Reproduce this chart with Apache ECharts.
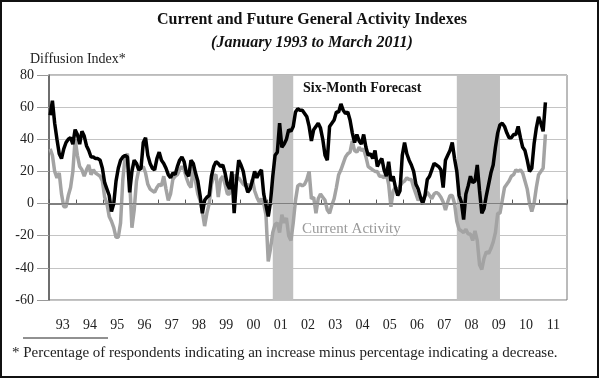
<!DOCTYPE html>
<html>
<head>
<meta charset="utf-8">
<script src="https://cdn.jsdelivr.net/npm/echarts@6/dist/echarts.min.js"></script>
<style>
html,body{margin:0;padding:0;background:#fff;}
#c{width:600px;height:380px;}
</style>
</head>
<body>
<div id="c"></div>
<script>
// Year tick labels (one per calendar year, 1993..2011)
var yearLabels = ['93','94','95','96','97','98','99','00','01','02','03','04','05','06','07','08','09','10','11'];

// Six-Month Forecast (future general activity), monthly Jan 1993 - Mar 2011
var forecast = [
 55,64,50,40,31,28,34,38,40,41,37,46,
 43,37,45,42,36,33,29,29,28,28,27,22,
 13,9,5,-5,0,14,22,27,29,30,29,7,
 20,27,25,21,22,38,41,30,25,22,21,28,
 32,27,25,22,18,16,19,18,23,27,29,26,
 19,17,27,25,19,14,5,-6,2,4,5,17,
 23,26,25,23,24,19,12,9,20,-6,14,27,
 24,20,12,7,9,14,20,16,19,21,6,-1,
 -8,1,17,30,32,50,35,37,40,46,45,48,
 57,59,58,58,56,54,48,39,46,48,50,47,
 40,30,27,48,50,52,57,57,62,58,56,57,
 52,44,38,43,39,37,43,35,30,31,28,33,
 23,26,28,21,17,26,14,17,10,5,8,30,
 38,31,27,24,20,12,9,4,0,5,15,17,
 21,25,24,23,21,10,27,30,33,38,28,20,
 5,1,-10,6,11,17,13,14,24,8,-6,-3,
 5,12,19,24,35,44,49,50,48,44,41,41,
 43,43,48,41,35,33,27,20,22,37,47,54,
 50,45,63
];

// Current Activity, monthly Jan 1993 - Mar 2011
var current = [
 34,30,20,16,19,6,-2,-2,5,10,20,40,
 30,23,21,17,21,24,18,21,19,18,17,14,
 4,0,-8,-11,-15,-21,-21,-12,15,29,31,15,
 -15,-4,14,21,22,23,19,12,9,8,7,10,
 12,11,17,9,2,6,15,17,18,21,23,21,
 16,12,10,23,14,6,2,-5,-14,-6,0,12,
 17,18,4,15,17,12,6,6,13,18,15,16,
 14,12,11,12,9,15,8,4,1,3,0,-7,
 -36,-28,-18,-13,-12,-18,-7,-12,-9,-20,-23,-12,
 2,11,12,11,12,15,20,3,4,-6,3,6,
 4,2,-4,-6,-1,3,10,18,21,25,29,31,
 32,39,33,32,35,33,34,29,23,22,21,20,
 20,17,17,16,19,12,-2,8,10,8,11,13,
 14,16,15,15,10,6,2,4,1,5,7,5,
 3,6,7,6,4,1,-4,1,5,5,0,-11,
 -16,-17,-18,-16,-19,-19,-23,-17,-23,-38,-41,-34,
 -30,-31,-28,-24,-18,-6,-6,2,10,12,14,17,
 18,21,20,21,19,14,9,0,-5,0,10,18,
 20,22,43
];

// Recession periods (first and last month shaded)
var recessions = [['2001-03','2001-12'], ['2007-12','2009-07']];

// Monthly category axis Jan 1993 .. Dec 2011
var months = [];
for (var y = 1993; y <= 2011; y++) {
  for (var m = 1; m <= 12; m++) months.push(y + '-' + (m < 10 ? '0' + m : m));
}

var serif = '"Liberation Serif", "DejaVu Serif", serif';
var chart = echarts.init(document.getElementById('c'), null, {renderer: 'canvas'});
chart.setOption({
  animation: false,
  backgroundColor: '#fff',
  grid: {left: 49, top: 75, width: 518, height: 225, show: true, borderColor: '#777', borderWidth: 1},
  xAxis: [
    {type: 'category', data: yearLabels, boundaryGap: true,
     axisLine: {show: true, lineStyle: {color: '#555', width: 1.5}},
     axisTick: {show: true, inside: true, length: 4, interval: 0, lineStyle: {color: '#555'}},
     axisLabel: {fontFamily: serif, fontSize: 14, color: '#222', margin: 18, interval: 0},
     splitLine: {show: false}},
    {type: 'category', data: months, boundaryGap: true, show: false}
  ],
  yAxis: {type: 'value', min: -60, max: 80, interval: 20,
    axisLine: {show: true, lineStyle: {color: '#555', width: 1.5}},
    axisTick: {show: true, length: 12, lineStyle: {color: '#999'}},
    axisLabel: {fontFamily: serif, fontSize: 14, color: '#222', margin: 15},
    splitLine: {show: true, lineStyle: {color: '#c4c4c4', width: 1.2}}},
  series: [
    {type: 'line', xAxisIndex: 1, data: current, showSymbol: false, symbol: 'none',
     lineStyle: {color: '#a3a3a3', width: 3.5}, z: 3,
     markArea: {silent: true, itemStyle: {color: '#c0c0c0'},
       data: recessions.map(function (r) { return [{xAxis: r[0]}, {xAxis: r[1]}]; })},
     markLine: {silent: true, symbol: 'none', label: {show: false},
       lineStyle: {color: '#808080', width: 1.2, type: 'solid'}, data: [{yAxis: 0}]}},
    {type: 'line', xAxisIndex: 1, data: forecast, showSymbol: false, symbol: 'none',
     lineStyle: {color: '#000', width: 3.5}, z: 4}
  ],
  graphic: [
    {type: 'rect', shape: {x: 1, y: 1, width: 597, height: 376}, style: {fill: null, stroke: '#111', lineWidth: 2}, z: 100},
    {type: 'text', x: 312, y: 20, style: {text: 'Current and Future General Activity Indexes', font: 'bold 16px ' + serif, fill: '#111', textAlign: 'center', textVerticalAlign: 'middle'}},
    {type: 'text', x: 312, y: 43, style: {text: '(January 1993 to March 2011)', font: 'italic bold 16px ' + serif, fill: '#111', textAlign: 'center', textVerticalAlign: 'middle'}},
    {type: 'text', x: 30, y: 59, style: {text: 'Diffusion Index*', font: '14px ' + serif, fill: '#222', textAlign: 'left', textVerticalAlign: 'middle'}},
    {type: 'text', x: 303, y: 88, style: {text: 'Six-Month Forecast', font: 'bold 14px ' + serif, fill: '#111', textAlign: 'left', textVerticalAlign: 'middle'}, z: 50},
    {type: 'text', x: 302, y: 229, style: {text: 'Current Activity', font: '15px ' + serif, fill: '#9a9a9a', textAlign: 'left', textVerticalAlign: 'middle'}, z: 50},
    {type: 'line', shape: {x1: 23, y1: 338, x2: 108, y2: 338}, style: {stroke: '#222', lineWidth: 1}},
    {type: 'text', x: 12, y: 353, style: {text: '* Percentage of respondents indicating an increase minus percentage indicating a decrease.', font: '15px ' + serif, fill: '#222', textAlign: 'left', textVerticalAlign: 'middle'}}
  ]
});
</script>
</body>
</html>
